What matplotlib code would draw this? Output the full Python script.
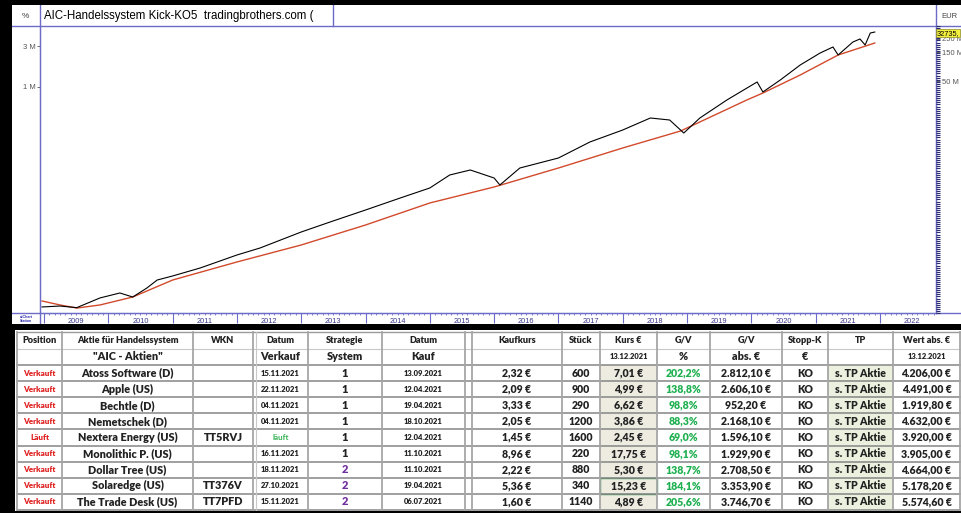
import numpy as np
import matplotlib.pyplot as plt
import matplotlib.transforms as mtransforms
from matplotlib.ticker import FixedLocator, MultipleLocator, NullFormatter
from matplotlib.patches import Rectangle

W, H = 961, 513

# Chart: Depotkurve (Dezimaljahr, Wert) und gleitender Durchschnitt
kurs_t = [2008.97, 2009.25, 2009.51, 2009.87, 2010.18, 2010.38, 2010.60, 2010.76,
          2011.00, 2011.43, 2012.00, 2012.36, 2013.00, 2013.45, 2014.00, 2014.54,
          2015.00, 2015.31, 2015.63, 2016.00, 2016.09, 2016.40, 2017.00, 2017.49,
          2018.00, 2018.43, 2018.73, 2018.95, 2019.20, 2019.62, 2020.09, 2020.18,
          2020.45, 2020.76, 2021.07, 2021.27, 2021.35, 2021.58, 2021.69, 2021.77,
          2021.85, 2021.92]
kurs_v = [2750, 2820, 2700, 3500, 4000, 3590, 4570, 5660,
          6310, 7820, 11070, 13360, 20510, 26830, 36980, 51030,
          66730, 94600, 108100, 87200, 72300, 114000, 149100, 229000,
          315800, 435700, 412800, 291400, 435700, 706000, 1144000, 874500,
          1206000, 1803000, 2488000, 2922000, 2358000, 3341000, 3622000, 3083000,
          4252000, 4365000]
ma_t = [2008.97, 2009.25, 2009.51, 2009.87, 2010.38, 2011.00, 2012.00, 2013.00,
        2014.00, 2015.00, 2016.00, 2017.00, 2018.00, 2018.90, 2019.93, 2020.18,
        2020.76, 2021.35, 2021.92]
ma_v = [3228, 2900, 2670, 2900, 3590, 5660, 9180, 14480,
        24740, 44650, 68550, 114000, 195000, 307500, 706000, 851000,
        1379000, 2358000, 3252000]
jahre = list(range(2009, 2023))
links_ticks = [1e6, 3e6]
links_labels = ['1 M', '3 M']
rechts_ticks = [50e6, 150e6, 250e6]
rechts_labels = ['50 M', '150 M', '250 M']
letzter_kurs = '32735,'

# Tabelle
kopf1 = ['Position', 'Aktie für Handelssystem', 'WKN', 'Datum', 'Strategie', 'Datum', '',
         'Kaufkurs', 'Stück', 'Kurs €', 'G/V', 'G/V', 'Stopp-K', 'TP', 'Wert abs. €']
kopf2 = ['', '"AIC - Aktien"', '', 'Verkauf', 'System', 'Kauf', '',
         '', '', '13.12.2021', '%', 'abs. €', '€', '', '13.12.2021']
position = ['Verkauft', 'Verkauft', 'Verkauft', 'Verkauft', 'Läuft',
            'Verkauft', 'Verkauft', 'Verkauft', 'Verkauft']
aktien = ['Atoss Software (D)', 'Apple (US)', 'Bechtle (D)', 'Nemetschek (D)',
          'Nextera Energy (US)', 'Monolithic P. (US)', 'Dollar Tree (US)',
          'Solaredge (US)', 'The Trade Desk (US)']
wkn = ['', '', '', '', 'TT5RVJ', '', '', 'TT376V', 'TT7PFD']
datum_verkauf = ['15.11.2021', '22.11.2021', '04.11.2021', '04.11.2021', 'läuft',
                 '16.11.2021', '18.11.2021', '27.10.2021', '15.11.2021']
strategie = [1, 1, 1, 1, 1, 1, 2, 2, 2]
datum_kauf = ['13.09.2021', '12.04.2021', '19.04.2021', '18.10.2021', '12.04.2021',
              '11.10.2021', '11.10.2021', '19.04.2021', '06.07.2021']
kaufkurs = [2.32, 2.09, 3.33, 2.05, 1.45, 8.96, 2.22, 5.36, 1.60]
stueck = [600, 900, 290, 1200, 1600, 220, 880, 340, 1140]
kurs = [7.01, 4.99, 6.62, 3.86, 2.45, 17.75, 5.30, 15.23, 4.89]
gv_pct = [202.2, 138.8, 98.8, 88.3, 69.0, 98.1, 138.7, 184.1, 205.6]
gv_abs = [2812.10, 2606.10, 952.20, 2168.10, 1596.10, 1929.90, 2708.50, 3353.90, 3746.70]
stopp = ['KO'] * 9
tp = ['s. TP Aktie'] * 9
wert = [4206.00, 4491.00, 1919.80, 4632.00, 3920.00, 3905.00, 4664.00, 5178.20, 5574.60]

BLAU = '#6c6cc8'
CHART_FONT = ['Liberation Sans', 'DejaVu Sans']
TAB_FONT = ['Lato', 'DejaVu Sans']
TAB_W = 'heavy'


def box(x0, y0, x1, y1):
    return [x0 / W, 1 - y1 / H, (x1 - x0) / W, (y1 - y0) / H]


def eur(v):
    s = f'{v:,.2f}'.replace(',', 'X').replace('.', ',').replace('X', '.')
    return s + ' €'


fig = plt.figure(figsize=(W / 100, H / 100), dpi=100, facecolor='black')

# --- Chart-Rahmen in Pixelkoordinaten
bg = fig.add_axes(box(12, 5, 961, 324))
bg.set_xlim(12, 961)
bg.set_ylim(324, 5)
bg.set_facecolor('white')
bg.set_xticks([])
bg.set_yticks([])
for s in bg.spines.values():
    s.set_visible(False)
bg.plot([12, 961], [26, 26], color=BLAU, lw=1)
bg.plot([12, 961], [313, 313], color=BLAU, lw=1)
bg.plot([40, 40], [5, 324], color=BLAU, lw=1)
bg.plot([333, 333], [5, 26], color=BLAU, lw=1)
bg.plot([936, 936], [5, 313], color=BLAU, lw=1)
bg.text(25, 16, '%', fontsize=6, color='#444444', ha='center', va='center', family=CHART_FONT)
bg.text(44, 16, 'AIC-Handelssystem Kick-KO5  tradingbrothers.com (', fontsize=8.3,
        ha='left', va='center', family=CHART_FONT)
bg.text(941, 16, 'EUR', fontsize=5.5, color='#444444', ha='left', va='center', family=CHART_FONT)
bg.text(26, 319, 'ntChart\nStation', fontsize=2.6, color='#2a2ab0', ha='center', va='center',
        linespacing=0.9, fontweight='bold', family=CHART_FONT)

# --- Hauptchart
ax = fig.add_axes(box(40, 26, 936, 313))
ax.set_facecolor('none')
ax.set_yscale('log')
ax.set_ylim(2339, 5.13e6)
ax.set_xlim(2008.938, 2022.872)
ax.plot(ma_t, ma_v, color='#d24a2c', lw=1.0)
ax.plot(kurs_t, kurs_v, color='black', lw=0.8)
ax.spines['top'].set_visible(False)
for s in ['left', 'right', 'bottom']:
    ax.spines[s].set_color(BLAU)

ax.yaxis.set_major_locator(FixedLocator(links_ticks))
ax.set_yticklabels(links_labels)
ax.yaxis.set_minor_formatter(NullFormatter())
ax.yaxis.set_minor_locator(FixedLocator([]))
ax.tick_params(axis='y', which='major', direction='out', length=2, width=0.6,
               labelsize=5.5, colors='#555555', pad=1)
for lab in ax.get_yticklabels():
    lab.set_family(CHART_FONT)

ax.xaxis.set_major_locator(FixedLocator(jahre + [2023]))
ax.xaxis.set_major_formatter(NullFormatter())
ax.xaxis.set_minor_locator(MultipleLocator(1 / 12))
ax.tick_params(axis='x', which='major', direction='out', length=7.5, width=0.8, colors=BLAU)
ax.tick_params(axis='x', which='minor', direction='out', length=1.6, width=0.6, colors=BLAU)
trans = mtransforms.blended_transform_factory(ax.transData, ax.transAxes)
for j in jahre:
    ax.text(j + 0.5, -0.028, str(j), transform=trans, fontsize=5.3, color='#3a3a90',
            ha='center', va='center', family=CHART_FONT)

ax2 = ax.twinx()
ax2.set_yscale('log')
ax2.set_ylim(7636, 401.6e6)
for s in ax2.spines.values():
    s.set_visible(False)
ax2.yaxis.set_major_locator(FixedLocator(rechts_ticks))
ax2.set_yticklabels(rechts_labels)
ax2.yaxis.set_minor_locator(FixedLocator(np.geomspace(7636, 401.6e6, 140)))
ax2.yaxis.set_minor_formatter(NullFormatter())
ax2.tick_params(axis='y', which='major', direction='out', length=3, width=0.6,
                labelsize=5.5, colors='#555555', pad=1)
ax2.tick_params(axis='y', which='minor', direction='out', length=3.2, width=0.8, colors='#2c2c70')
for lab in ax2.get_yticklabels():
    lab.set_family(CHART_FONT)
ax2.text(1.001, 307e6, letzter_kurs, transform=ax2.get_yaxis_transform(), fontsize=5.3,
         ha='left', va='center', family=CHART_FONT, clip_on=False, zorder=10,
         bbox=dict(boxstyle='square,pad=0.12', fc='#f4f040', ec='#8a8a20', lw=0.5))

# --- Tabelle
tb = fig.add_axes(box(15, 330, 961, 511))
tb.set_xlim(15, 961)
tb.set_ylim(511, 330)
tb.set_facecolor('white')
tb.set_xticks([])
tb.set_yticks([])
for s in tb.spines.values():
    s.set_visible(False)

col_x = [17, 62, 193, 253, 308, 382, 465, 472, 562, 600, 657, 710, 782, 828, 893, 960]
kopf_y = [332, 348.5, 365]
row_h = 16.1
row_y = [365 + row_h * i for i in range(len(aktien) + 1)]

# Zellhintergruende: Kurs-Spalte und TP-Spalte
for i in range(len(aktien)):
    tb.add_patch(Rectangle((col_x[9], row_y[i]), col_x[10] - col_x[9], row_h,
                           fc='#eeece1', ec='none'))
    tb.add_patch(Rectangle((col_x[13], row_y[i]), col_x[14] - col_x[13], row_h,
                           fc='#ebf1de', ec='none'))

# Linien
tb.plot([col_x[0], 961], [kopf_y[0], kopf_y[0]], color='#9a9a9a', lw=1)
tb.plot([col_x[0], 961], [kopf_y[1], kopf_y[1]], color='#c8c8c8', lw=0.8)
for y in row_y:
    tb.plot([col_x[0], 961], [y, y], color='#858585', lw=1.1)
for x in col_x:
    tb.plot([x, x], [kopf_y[0], row_y[-1]], color='#a6a6a6', lw=1.3)
tb.plot([col_x[3] + 3, col_x[3] + 3], [kopf_y[0], row_y[-1]], color='#c8c8c8', lw=0.8)

# Auswahlrahmen (Excel) um Solaredge-Kurs
tb.add_patch(Rectangle((col_x[9], row_y[7]), col_x[10] - col_x[9], row_h,
                       fc='none', ec='#3a9a5a', lw=1.0))

cx = [(a + b) / 2 for a, b in zip(col_x[:-1], col_x[1:])]

for k, txt in enumerate(kopf1):
    if txt:
        tb.text(cx[k], (kopf_y[0] + kopf_y[1]) / 2, txt, fontsize=6.6, fontweight=TAB_W,
                ha='center', va='center', family=TAB_FONT, color='#222222')
for k, txt in enumerate(kopf2):
    if txt:
        small = '.' in txt and txt[0].isdigit()
        tb.text(cx[k], (kopf_y[1] + kopf_y[2]) / 2, txt, fontsize=5.4 if small else 7.8,
                fontweight=TAB_W, ha='center', va='center', family=TAB_FONT, color='#222222')

for i in range(len(aktien)):
    yc = row_y[i] + row_h / 2
    laeuft = datum_verkauf[i] == 'läuft'
    zellen = [
        (position[i], 5.8, '#e02020', TAB_W),
        (aktien[i], 7.8, '#222222', TAB_W),
        (wkn[i], 7.8, '#222222', TAB_W),
        (datum_verkauf[i], 5.8 if laeuft else 5.5, '#30b050' if laeuft else '#222222',
         'bold' if laeuft else TAB_W),
        (str(strategie[i]), 8.0, '#7030a0' if strategie[i] == 2 else '#222222', TAB_W),
        (datum_kauf[i], 5.5, '#222222', TAB_W),
        ('', 7, '#222222', TAB_W),
        (eur(kaufkurs[i]), 7.6, '#222222', TAB_W),
        (str(stueck[i]), 7.6, '#222222', TAB_W),
        (eur(kurs[i]), 7.6, '#222222', TAB_W),
        (f'{gv_pct[i]:.1f}%'.replace('.', ','), 7.6, '#1fb050', TAB_W),
        (eur(gv_abs[i]), 7.6, '#222222', TAB_W),
        (stopp[i], 7.6, '#222222', TAB_W),
        (tp[i], 7.6, '#222222', TAB_W),
        (eur(wert[i]), 7.6, '#222222', TAB_W),
    ]
    for k, (txt, fs, col, fw) in enumerate(zellen):
        if txt:
            tb.text(cx[k], yc, txt, fontsize=fs, fontweight=fw, ha='center', va='center',
                    family=TAB_FONT, color=col)

fig.savefig('out.png', dpi=100, facecolor='black')
